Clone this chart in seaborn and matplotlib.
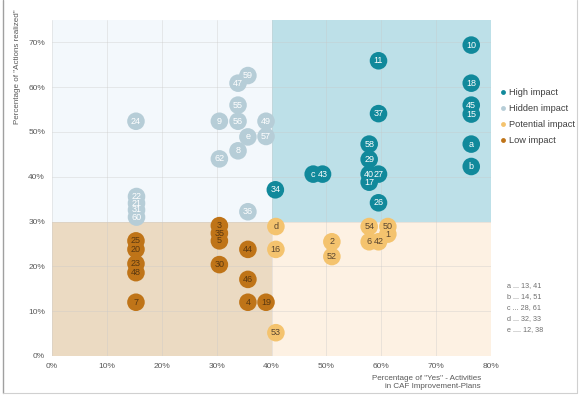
import matplotlib
matplotlib.use("Agg")
import matplotlib.pyplot as plt
import matplotlib.patches as mpatches
from matplotlib.lines import Line2D
import seaborn as sns
import pandas as pd

# =====================================
# DATA (percent values)
# =====================================

high_labels = ["10", "11", "18", "45", "15", "37", "58", "a", "29", "b",
               "c", "43", "40", "27", "17", "34", "26"]
high_x = [76.4, 59.5, 76.4, 76.4, 76.4, 59.5, 57.8, 76.4, 57.8, 76.4,
          47.6, 49.3, 57.8, 59.5, 57.8, 40.7, 59.5]
high_y = [69.4, 65.9, 60.9, 56.0, 54.0, 54.1, 47.3, 47.3, 43.9, 42.3,
          40.6, 40.6, 40.6, 40.6, 38.8, 37.1, 34.2]

hidden_labels = ["59", "47", "55", "9", "56", "49", "24", "e", "57", "8",
                 "62", "36", "22", "21", "31", "60"]
hidden_x = [35.7, 33.9, 33.9, 30.5, 33.9, 39.0, 15.3, 35.7, 39.0, 33.9,
            30.5, 35.7, 15.4, 15.4, 15.4, 15.4]
hidden_y = [62.6, 60.9, 56.0, 52.4, 52.4, 52.4, 52.4, 48.9, 49.0, 45.8,
            44.0, 32.2, 35.6, 34.1, 32.6, 31.0]

potential_labels = ["d", "16", "53", "54", "50", "1", "6", "42", "2", "52"]
potential_x = [40.8, 40.8, 40.8, 57.8, 61.2, 61.2, 57.8, 59.5, 51.0, 51.0]
potential_y = [28.9, 23.8, 5.2, 28.9, 28.9, 27.2, 25.5, 25.5, 25.5, 22.2]

low_labels = ["3", "35", "5", "25", "20", "44", "30", "23", "48", "46",
              "7", "4", "19"]
low_x = [30.5, 30.5, 30.5, 15.3, 15.3, 35.7, 30.5, 15.3, 15.3, 35.7,
         15.3, 35.7, 39.0]
low_y = [29.1, 27.4, 25.7, 25.7, 23.8, 23.8, 20.4, 20.6, 18.6, 17.1,
         12.0, 12.0, 12.0]

group_names = ["High impact", "Hidden impact", "Potential impact", "Low impact"]
footnotes = ["a ... 13, 41", "b ... 14, 51", "c ... 28, 61",
             "d ... 32, 33", "e .... 12, 38"]

# =====================================
# BUILD TABLE
# =====================================

frames = []
for name, labs, xs, ys in [
    ("High impact", high_labels, high_x, high_y),
    ("Hidden impact", hidden_labels, hidden_x, hidden_y),
    ("Potential impact", potential_labels, potential_x, potential_y),
    ("Low impact", low_labels, low_x, low_y),
]:
    frames.append(pd.DataFrame({"label": labs, "x": xs, "y": ys, "group": name}))
df = pd.concat(frames, ignore_index=True)

palette = {
    "High impact": "#11899b",
    "Hidden impact": "#b6cdd7",
    "Potential impact": "#f4c36e",
    "Low impact": "#bf7418",
}
text_colors = {
    "High impact": "white",
    "Hidden impact": "white",
    "Potential impact": "#5a4630",
    "Low impact": "#5a3810",
}

# =====================================
# PLOT
# =====================================

sns.set_style("white")
plt.rcParams["font.family"] = ["Liberation Sans", "DejaVu Sans"]

fig = plt.figure(figsize=(5.87, 3.99), dpi=100)
ax = fig.add_axes([52 / 587, 1 - 356 / 399, 439 / 587, 336 / 399])

# quadrant backgrounds
ax.add_patch(mpatches.Rectangle((0, 30), 40, 45, color="#f3f8fc", zorder=0, lw=0))
ax.add_patch(mpatches.Rectangle((40, 30), 40, 45, color="#bde0e8", zorder=0, lw=0))
ax.add_patch(mpatches.Rectangle((0, 0), 40, 30, color="#ebdac2", zorder=0, lw=0))
ax.add_patch(mpatches.Rectangle((40, 0), 40, 30, color="#fdf1e3", zorder=0, lw=0))

sns.scatterplot(
    data=df, x="x", y="y", hue="group", palette=palette,
    s=160, edgecolor="none", legend=False, ax=ax, zorder=3
)

for _, r in df.iterrows():
    ax.text(r["x"], r["y"], r["label"], ha="center", va="center",
            fontsize=6.5, color=text_colors[r["group"]], zorder=4)

ax.set_xlim(0, 80)
ax.set_ylim(0, 75)
ax.set_xticks(range(0, 81, 10))
ax.set_xticklabels([f"{v}%" for v in range(0, 81, 10)])
ax.set_yticks(range(0, 71, 10))
ax.set_yticklabels([f"{v}%" for v in range(0, 71, 10)])
ax.tick_params(labelsize=6, colors="#595959", length=0, pad=5)
ax.grid(True, color="#c8c8c8", lw=0.5, alpha=0.5, zorder=1)
ax.set_axisbelow(False)
for sp in ax.spines.values():
    sp.set_visible(False)
ax.set_xlabel("")
ax.set_ylabel("")

fig.text(481 / 587, 1 - 383 / 399, 'Percentage of "Yes" - Activities\nin CAF Improvement-Plans',
         ha="right", va="center", multialignment="right", fontsize=5.8,
         color="#595959", linespacing=1.2)
fig.text(18 / 587, 1 - 67 / 399, 'Percentage of "Actions realized"', rotation=90,
         ha="center", va="center", fontsize=5.8, color="#595959")

# legend
handles = [Line2D([0], [0], marker="o", color="none", markerfacecolor=palette[g],
                  markeredgecolor="none", markersize=3.5, label=g) for g in group_names]
fig.legend(handles=handles, loc="upper left", bbox_to_anchor=(492 / 587, 1 - 80 / 399),
           frameon=False, fontsize=6.7, handlelength=0.6, handletextpad=0.35,
           labelspacing=0.75, labelcolor="#404040")

for i, t in enumerate(footnotes):
    fig.text(507 / 587, 1 - (286 + i * 10.8) / 399, t, fontsize=5.2,
             color="#707070", va="center", ha="left")

# outer frame
fig.add_artist(Line2D([3 / 587, 3 / 587], [1 - 393 / 399, 1], color="#a0a0a0", lw=1))
fig.add_artist(Line2D([3 / 587, 577 / 587], [1 - 393 / 399, 1 - 393 / 399], color="#d0d0d0", lw=0.8))
fig.add_artist(Line2D([577 / 587, 577 / 587], [1 - 393 / 399, 1], color="#d0d0d0", lw=0.8))

fig.savefig("out.png", dpi=100)
plt.close(fig)
